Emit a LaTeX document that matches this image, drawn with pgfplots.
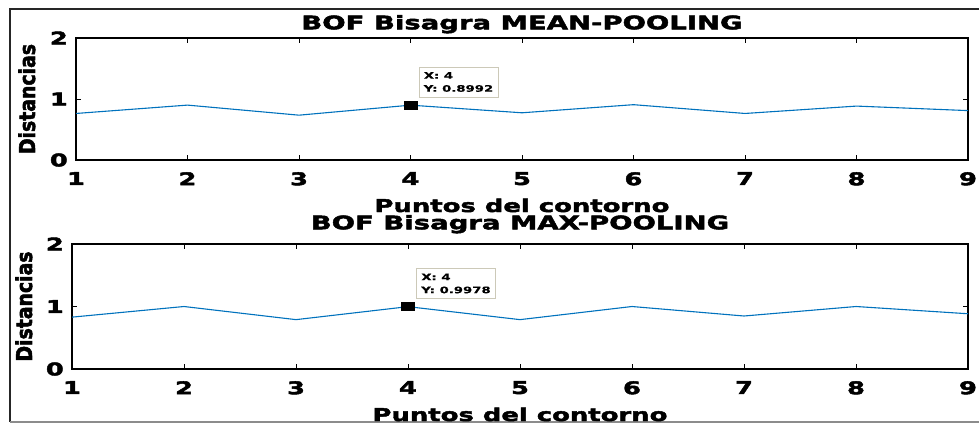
\documentclass[border=0pt]{standalone}
\usepackage{pgfplots}
\pgfplotsset{compat=1.18}
\usepackage{fontspec}
\setmainfont{DejaVu Sans}[FakeStretch=1.47, BoldFeatures={FakeBold=2.5}]
\newfontfamily\plainfont{DejaVu Sans}[BoldFeatures={FakeBold=2.5}]
\newfontfamily\tipfont{DejaVu Sans}[FakeStretch=1.47, BoldFeatures={FakeBold=0.4}]
\definecolor{mlblue}{rgb}{0,0.447,0.741}
\definecolor{tipedge}{rgb}{0.80,0.79,0.72}

% Distances per contour point, one table per pooling method
\pgfplotstableread{
x y
1 0.763
2 0.900
3 0.735
4 0.8992
5 0.774
6 0.907
7 0.763
8 0.884
9 0.810
}\meanpool
\pgfplotstableread{
x y
1 0.830
2 1.000
3 0.790
4 0.9978
5 0.790
6 1.000
7 0.848
8 1.000
9 0.884
}\maxpool

\pgfplotsset{
  bofaxis/.style={
    scale only axis,
    anchor=south west,
    xmin=1, xmax=9, ymin=0, ymax=2,
    xtick={1,...,9}, ytick={0,1,2},
    tick align=inside,
    major tick length=5pt,
    axis line style={line width=1.3pt},
    every tick/.style={black, line width=0.9pt},
    /pgf/number format/assume math mode=true,
    tick label style={font=\fontsize{17.5}{17.5}\selectfont\bfseries, inner sep=0pt},
    xticklabel style={anchor=north, yshift=-12pt},
    yticklabel style={anchor=east, xshift=-8pt},
    title style={at={(axis description cs:0.5,1)}, anchor=base, inner sep=0pt,
      font=\fontsize{18.7}{18.7}\selectfont\bfseries},
    xlabel style={at={(axis description cs:0.5,0)}, anchor=base, inner sep=0pt,
      yshift=-52pt, font=\fontsize{17.6}{17.6}\selectfont\bfseries},
    ylabel style={at={(axis description cs:0,0.5)}, anchor=base, inner sep=0pt},
    xlabel={Puntos del contorno},
    ylabel={\resizebox{110pt}{16.5pt}{\plainfont\bfseries Distancias}},
  },
}
\tikzset{
  tipstyle/.style={draw=tipedge, line width=0.6pt, fill=white, anchor=south west,
    inner xsep=5pt, inner ysep=5pt, align=left,
    font=\tipfont\bfseries\fontsize{9}{13}\selectfont, xshift=8pt, yshift=8pt},
}

\begin{document}
\begin{tikzpicture}
\useasboundingbox (0,0) rectangle (979pt,-424pt);
% outer frame
\draw[line width=1.3pt, black!85] (979pt,-9pt) -- (10pt,-9pt) -- (10pt,-422pt);
\draw[line width=1.3pt, black!45] (10pt,-422pt) -- (979pt,-422pt);

\begin{axis}[bofaxis, at={(76pt,-160pt)}, width=892pt, height=122pt,
  title={BOF Bisagra MEAN-POOLING}, title style={yshift=2.7pt},
  ylabel style={yshift=41pt}]
  \addplot[mlblue, line width=1.1pt] table[x=x, y=y] {\meanpool};
  \addplot[black, only marks, mark=square*, mark size=4pt,
    mark options={xscale=1.6}] coordinates {(4,0.8992)};
  \node[tipstyle] at (axis cs:4,0.8992) {X: 4\\Y: 0.8992};
\end{axis}

\begin{axis}[bofaxis, at={(72pt,-369pt)}, width=896pt, height=125pt,
  title={BOF Bisagra MAX-POOLING}, title style={yshift=8.7pt},
  ylabel style={yshift=40pt}]
  \addplot[mlblue, line width=1.1pt] table[x=x, y=y] {\maxpool};
  \addplot[black, only marks, mark=square*, mark size=4pt,
    mark options={xscale=1.6}] coordinates {(4,0.9978)};
  \node[tipstyle] at (axis cs:4,0.9978) {X: 4\\Y: 0.9978};
\end{axis}
\end{tikzpicture}
\end{document}
